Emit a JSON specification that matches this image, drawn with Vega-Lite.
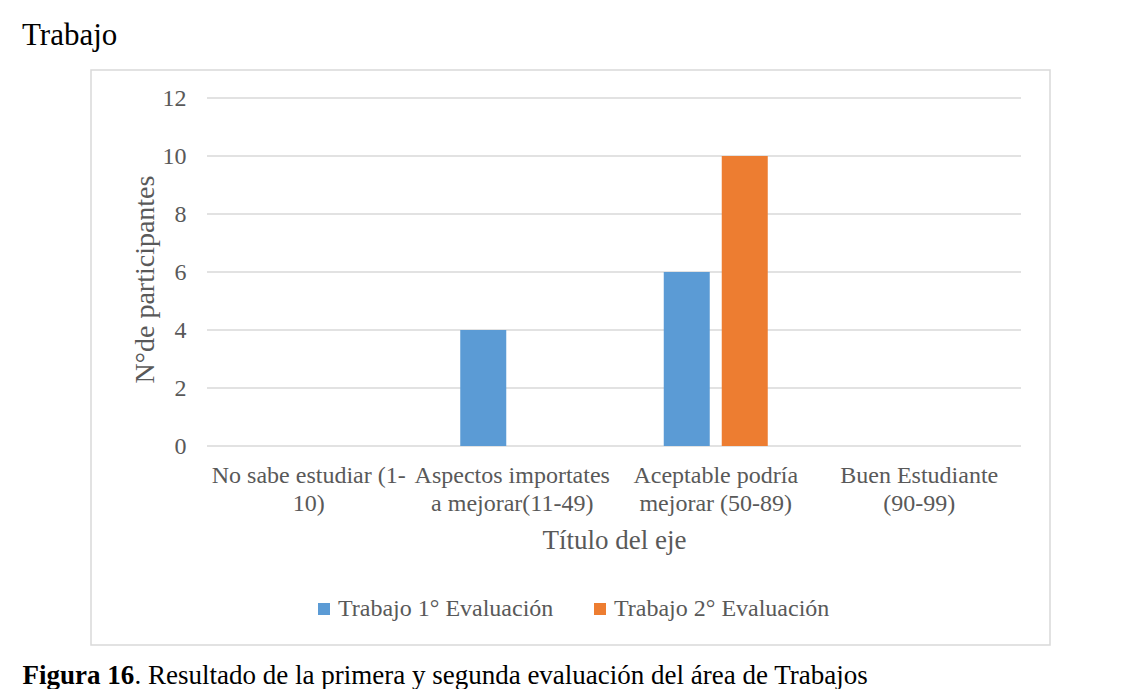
{
  "$schema": "https://vega.github.io/schema/vega-lite/v6.json",
  "autosize": "none",
  "padding": {"left": 91, "top": 70, "right": 73, "bottom": 44},
  "width": 959,
  "height": 575,
  "background": "white",
  "title": {
    "text": "Trabajo",
    "orient": "top",
    "anchor": "start",
    "frame": "group",
    "dx": -69,
    "offset": -6,
    "baseline": "alphabetic",
    "font": "Liberation Serif",
    "fontSize": 31,
    "fontWeight": "normal",
    "color": "#000000"
  },
  "config": {
    "view": {"stroke": "#d9d9d9", "strokeWidth": 1.5},
    "font": "Liberation Serif",
    "axis": {"labelFont": "Liberation Serif", "titleFont": "Liberation Serif"},
    "legend": {"labelFont": "Liberation Serif"},
    "style": {"guide-label": {"font": "Liberation Serif"}, "guide-title": {"font": "Liberation Serif"}}
  },
  "datasets": {
    "bars": [
      {"cat": "No sabe estudiar (1-10)", "serie": "Trabajo 1° Evaluación", "v": 0},
      {"cat": "No sabe estudiar (1-10)", "serie": "Trabajo 2° Evaluación", "v": 0},
      {"cat": "Aspectos importates a mejorar(11-49)", "serie": "Trabajo 1° Evaluación", "v": 4},
      {"cat": "Aspectos importates a mejorar(11-49)", "serie": "Trabajo 2° Evaluación", "v": 0},
      {"cat": "Aceptable podría mejorar (50-89)", "serie": "Trabajo 1° Evaluación", "v": 6},
      {"cat": "Aceptable podría mejorar (50-89)", "serie": "Trabajo 2° Evaluación", "v": 10},
      {"cat": "Buen Estudiante (90-99)", "serie": "Trabajo 1° Evaluación", "v": 0},
      {"cat": "Buen Estudiante (90-99)", "serie": "Trabajo 2° Evaluación", "v": 0}
    ],
    "grid": [{"g": 0}, {"g": 2}, {"g": 4}, {"g": 6}, {"g": 8}, {"g": 10}, {"g": 12}]
  },
  "resolve": {"axis": {"x": "independent", "y": "independent"}},
  "layer": [
    {
      "data": {"name": "grid"},
      "mark": {"type": "rule", "color": "#d9d9d9", "strokeWidth": 1.5},
      "encoding": {
        "y": {
          "field": "g",
          "type": "quantitative",
          "scale": {"domain": [-6.862, 12.966], "nice": false, "zero": false},
          "axis": {
            "orient": "right",
            "labels": false,
            "ticks": false,
            "domain": false,
            "grid": false,
            "title": ". Resultado de la primera y segunda evaluación del área de Trabajos",
            "titleAngle": 0,
            "titleX": -916,
            "titleY": 613,
            "titleAlign": "left",
            "titleBaseline": "alphabetic",
            "titleFont": "Liberation Serif",
            "titleFontSize": 27,
            "titleFontWeight": "normal",
            "titleColor": "#000000"
          }
        },
        "x": {
          "datum": "No sabe estudiar (1-10)",
          "type": "nominal",
          "bandPosition": 0,
          "axis": {
            "orient": "bottom",
            "labels": false,
            "ticks": false,
            "domain": false,
            "grid": false,
            "title": "Figura 16",
            "titleX": -69,
            "titleY": 38,
            "titleAlign": "left",
            "titleAnchor": "start",
            "titleBaseline": "alphabetic",
            "titleFont": "Liberation Serif",
            "titleFontSize": 27,
            "titleFontWeight": "bold",
            "titleColor": "#000000"
          }
        },
        "x2": {"datum": "Buen Estudiante (90-99)", "bandPosition": 1}
      }
    },
    {
      "data": {"name": "bars"},
      "mark": {"type": "bar"},
      "encoding": {
        "x": {
          "field": "cat",
          "type": "nominal",
          "sort": null,
          "scale": {
            "type": "band",
            "domain": ["No sabe estudiar (1-10)", "Aspectos importates a mejorar(11-49)", "Aceptable podría mejorar (50-89)", "Buen Estudiante (90-99)"],
            "paddingInner": 0,
            "paddingOuter": 0.3563,
            "align": 0.8
          },
          "axis": {
            "orient": "bottom",
            "offset": -199,
            "domain": false,
            "ticks": false,
            "grid": false,
            "labelAngle": 0,
            "labelPadding": 17,
            "labelFont": "Liberation Serif",
            "labelFontSize": 24,
            "labelColor": "#595959",
            "labelLineHeight": 28,
            "labelLimit": 400,
            "labelExpr": "datum.value == 'No sabe estudiar (1-10)' ? ['No sabe estudiar (1-', '10)'] : datum.value == 'Aspectos importates a mejorar(11-49)' ? ['Aspectos importates', 'a mejorar(11-49)'] : datum.value == 'Aceptable podría mejorar (50-89)' ? ['Aceptable podría', 'mejorar (50-89)'] : ['Buen Estudiante', '(90-99)']",
            "title": "Título del eje",
            "titleFont": "Liberation Serif",
            "titleFontSize": 27,
            "titleFontWeight": "normal",
            "titleColor": "#595959",
            "titleX": 523,
            "titleY": 102,
            "titleAlign": "center",
            "titleBaseline": "alphabetic"
          }
        },
        "xOffset": {
          "field": "serie",
          "type": "nominal",
          "scale": {"paddingInner": 0.2069, "paddingOuter": 0.8578}
        },
        "y": {
          "field": "v",
          "type": "quantitative",
          "scale": {"domain": [-6.862, 12.966], "nice": false, "zero": false},
          "axis": {
            "orient": "left",
            "offset": -116,
            "values": [0, 2, 4, 6, 8, 10, 12],
            "domain": false,
            "ticks": false,
            "grid": false,
            "labelPadding": 21,
            "labelFont": "Liberation Serif",
            "labelFontSize": 24,
            "labelColor": "#595959",
            "title": "N°de participantes",
            "titleFont": "Liberation Serif",
            "titleFontSize": 28,
            "titleFontWeight": "normal",
            "titleColor": "#595959",
            "titleAngle": -90,
            "titleX": -54,
            "titleY": 209,
            "titleAlign": "center",
            "titleBaseline": "alphabetic"
          }
        },
        "y2": {"datum": 0},
        "color": {
          "field": "serie",
          "type": "nominal",
          "scale": {"domain": ["Trabajo 1° Evaluación", "Trabajo 2° Evaluación"], "range": ["#5b9bd5", "#ed7d31"]},
          "legend": {
            "orient": "none",
            "legendX": 221,
            "legendY": 527,
            "direction": "horizontal",
            "title": null,
            "symbolType": "square",
            "symbolSize": 144,
            "symbolStrokeWidth": 0,
            "labelFont": "Liberation Serif",
            "labelFontSize": 24,
            "labelColor": "#595959",
            "labelOffset": 2,
            "labelLimit": 400,
            "columnPadding": 34
          }
        }
      }
    }
  ]
}
